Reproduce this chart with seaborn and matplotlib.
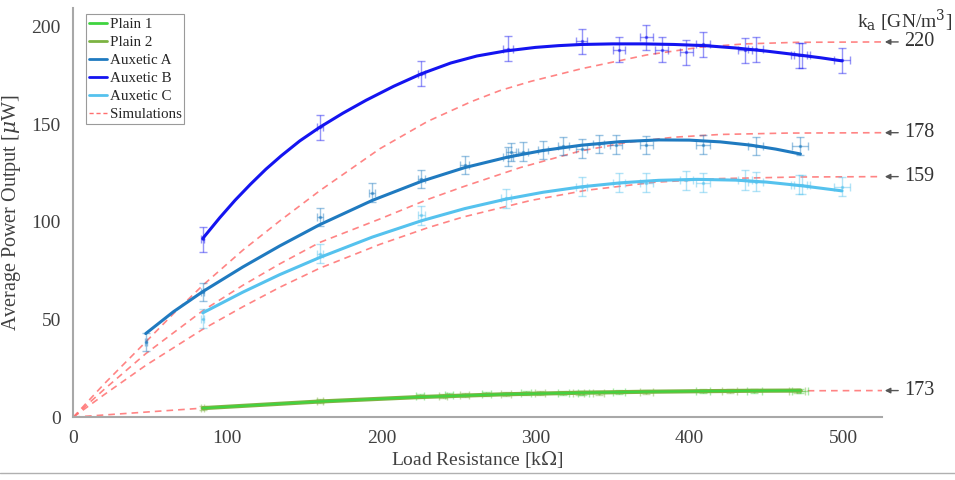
import numpy as np
import pandas as pd
import matplotlib
matplotlib.use("Agg")
import matplotlib.pyplot as plt
import seaborn as sns
from matplotlib.lines import Line2D

# --- measured points (load resistance kOhm, power uW) ---
plain1_R = [225, 244, 268, 294, 318, 331, 354, 409, 442, 472]
plain1_P = [10.7, 11.1, 11.8, 12.2, 12.4, 12.5, 12.7, 13.3, 13.6, 13.6]
plain2_R = [84, 160, 240, 254, 281, 303, 328, 341, 372, 426, 470]
plain2_P = [4.6, 8.2, 11.0, 11.3, 11.9, 12.2, 12.4, 12.5, 12.9, 13.3, 13.5]

auxA_R = [47, 84, 160, 194, 226, 254, 282, 284, 292, 305, 318, 330, 341, 352, 372, 409, 443, 472]
auxA_P = [38.5, 64, 102.6, 115, 122, 129, 133.5, 135.8, 136, 137, 138.8, 137.6, 140, 139.6, 139.5, 139.6, 138.9, 138.9]

auxB_R = [84, 160, 226, 282, 330, 354, 372, 382, 398, 409, 436, 443, 471, 473, 499]
auxB_P = [91, 148.5, 176, 188.8, 192.6, 188.3, 194.5, 188.3, 186.8, 190.9, 188, 188.5, 185.4, 185.4, 182.7]

auxC_R = [84, 160, 226, 281, 330, 354, 372, 398, 409, 436, 443, 471, 473, 499]
auxC_P = [50.5, 83.8, 103.4, 112, 118, 120, 120, 121.3, 120, 121.5, 120.5, 119, 119, 118]

# --- fitted trend lines ---
fit_plain_R = [84, 160, 225, 280, 330, 372, 410, 440, 472]
fit_plain_P = [4.6, 8.0, 10.3, 11.7, 12.5, 13.0, 13.3, 13.5, 13.6]
fit_A_R = [47, 65, 84, 110, 134, 160, 194, 226, 254, 282, 305, 330, 355, 380, 400, 420, 440, 456, 472]
fit_A_P = [42.8, 54, 64.3, 76.9, 87.7, 98.6, 111, 120.8, 127.8, 133.2, 136.6, 139.3, 141.1, 142, 141.9, 141, 139.3, 137.3, 134.8]
fit_B_R = [84, 95, 105, 115, 125, 135, 147, 160, 175, 190, 208, 226, 245, 262, 280, 300, 315, 330, 350,
	370, 390, 410, 430, 450, 470, 485, 499]
fit_B_P = [91.5, 102.1, 111.1, 119.3, 127, 133.9, 141.5, 148.5, 155.7, 162.3, 169.5, 175.9, 181.4, 185, 187.5,
	189.4, 190.3, 190.9, 191.2, 191.2, 190.9, 190.3, 189.1, 187.5, 185.6, 184.1, 182.5]
fit_C_R = [84, 110, 134, 160, 194, 226, 254, 281, 305, 330, 355, 380, 405, 430, 450, 472, 499]
fit_C_P = [53.4, 64, 73, 81.8, 92.2, 100.6, 106.8, 111.7, 115.2, 118, 120, 121.3, 121.8, 121.4, 120.4, 118.6, 115.9]

# --- simulations for each k_a [GN/m^3] ---
sim_labels = ["220", "178", "159", "173"]
sim220_R = [0, 20, 47, 65, 84, 110, 134, 160, 199, 230, 258, 277, 297, 330, 372, 407, 436, 470, 525]
sim220_P = [0, 17, 38.5, 53, 67.5, 85.5, 100.5, 116, 137.5, 151.5, 161.5, 167.3, 172, 178.5, 185.5, 189.5,
	191.2, 192, 192.2]
sim178_R = [0, 20, 47, 84, 110, 134, 160, 199, 230, 253, 290, 329, 360, 390, 420, 463, 525]
sim178_P = [0, 14.2, 32.5, 54.5, 67.5, 78.5, 89.5, 101.5, 111.5, 118, 127.8, 136.3, 140.8, 143.4, 144.8, 145.5, 145.7]
sim159_R = [0, 20, 47, 84, 110, 134, 160, 199, 230, 253, 297, 333, 377, 420, 470, 525]
sim159_P = [0, 11.5, 26.5, 45, 56.5, 66.5, 76.3, 88.5, 97, 102.5, 111, 116.2, 120.3, 122.2, 123, 123.2]
sim173_R = [0, 84, 160, 225, 280, 330, 372, 410, 470, 525]
sim173_P = [0, 4.6, 8.1, 10.3, 11.6, 12.4, 12.9, 13.2, 13.5, 13.6]

# error bar sizes
yerr_plain, yerr_A, yerr_B, yerr_C = 1.0, 4.7, 6.4, 4.9
xerr_frac = 0.011

c_p1 = "#3fd43f"
c_p2 = "#7cb342"
c_A = "#1f7ac0"
c_B = "#1414f0"
c_C = "#55c2ee"
c_sim = "#ff6f6f"


def main():
	sns.set_style("white")
	plt.rcParams["font.family"] = ["Liberation Serif", "DejaVu Serif"]
	plt.rcParams["mathtext.fontset"] = "dejavuserif"

	fig = plt.figure(figsize=(9.55, 4.8), dpi=100)
	ax = fig.add_axes([0.0768, 0.131, 0.8468, 0.852])
	txt = "#404040"

	# simulations
	sims = [(sim220_R, sim220_P), (sim178_R, sim178_P), (sim159_R, sim159_P), (sim173_R, sim173_P)]
	for (r, p), lab in zip(sims, sim_labels):
		sns.lineplot(x=r, y=p, ax=ax, color=c_sim, lw=1.2, linestyle=(0, (4, 3)), alpha=0.85, sort=False)
		ax.annotate(lab, xy=(r[-1], p[-1]), xytext=(16, 0), textcoords="offset points",
			va="center", ha="left", fontsize=14.5, color="#333333", annotation_clip=False,
			arrowprops=dict(arrowstyle="-|>", color="#555555", lw=1.0, shrinkA=2, shrinkB=2,
				mutation_scale=8))

	# measured data with error bars
	series = [
		(plain2_R, plain2_P, yerr_plain, c_p2),
		(plain1_R, plain1_P, yerr_plain, c_p1),
		(auxA_R, auxA_P, yerr_A, c_A),
		(auxB_R, auxB_P, yerr_B, c_B),
		(auxC_R, auxC_P, yerr_C, c_C),
	]
	for r, p, ye, col in series:
		r = np.array(r, dtype=float)
		ax.errorbar(r, p, yerr=ye, xerr=r * xerr_frac, fmt=".", ms=3, color=col,
			ecolor=col, elinewidth=1, capsize=3, alpha=0.45, zorder=3)

	# fitted lines
	fits = [
		(fit_plain_R, fit_plain_P, c_p2, 3.0),
		(fit_plain_R, fit_plain_P, c_p1, 1.4),
		(fit_A_R, fit_A_P, c_A, 2.2),
		(fit_B_R, fit_B_P, c_B, 2.2),
		(fit_C_R, fit_C_P, c_C, 2.2),
	]
	for r, p, col, lw in fits:
		df = pd.DataFrame({"R": r, "P": p})
		sns.lineplot(data=df, x="R", y="P", ax=ax, color=col, lw=lw, zorder=4)

	ax.set_xlim(0, 525)
	ax.set_ylim(0, 209.5)
	ax.set_xticks([0, 100, 200, 300, 400, 500])
	ax.set_yticks([0, 50, 100, 150, 200])
	ax.tick_params(axis="both", direction="out", length=6, width=1.2, color="#a0a0a0",
		labelsize=14, labelcolor=txt, pad=3)
	for s in ["top", "right"]:
		ax.spines[s].set_visible(False)
	for s in ["left", "bottom"]:
		ax.spines[s].set_color("#a8a8a8")
		ax.spines[s].set_linewidth(1.5)

	ax.set_xlabel("Load Resistance [k$\\Omega$]", fontsize=14, color=txt, labelpad=2)
	ax.set_ylabel("Average Power Output [$\\mu$W]", fontsize=14.5, color=txt, labelpad=6)

	handles = [
		Line2D([], [], color=c_p1, lw=2),
		Line2D([], [], color=c_p2, lw=2),
		Line2D([], [], color=c_A, lw=2),
		Line2D([], [], color=c_B, lw=2),
		Line2D([], [], color=c_C, lw=2),
		Line2D([], [], color=c_sim, lw=1, linestyle=(0, (3, 2))),
	]
	labels = ["Plain 1", "Plain 2", "Auxetic A", "Auxetic B", "Auxetic C", "Simulations"]
	leg = ax.legend(handles, labels, loc="upper left", bbox_to_anchor=(0.016, 0.985),
		borderaxespad=0, fontsize=10.8, handlelength=1.2, handletextpad=0.15,
		labelspacing=0.3, borderpad=0.2, fancybox=False, framealpha=1)
	leg.get_frame().set_edgecolor("#9a9a9a")
	leg.get_frame().set_linewidth(0.8)

	fig.text(0.897, 0.942, "k$_\\mathrm{a}$ [GN/m$^3$]", fontsize=14, color="#333333",
		ha="left", va="baseline")

	fig.add_artist(Line2D([0, 1], [0.015, 0.015], color="#b0b0b0", lw=1))

	fig.savefig("out.png", dpi=100)


if __name__ == "__main__":
	main()
